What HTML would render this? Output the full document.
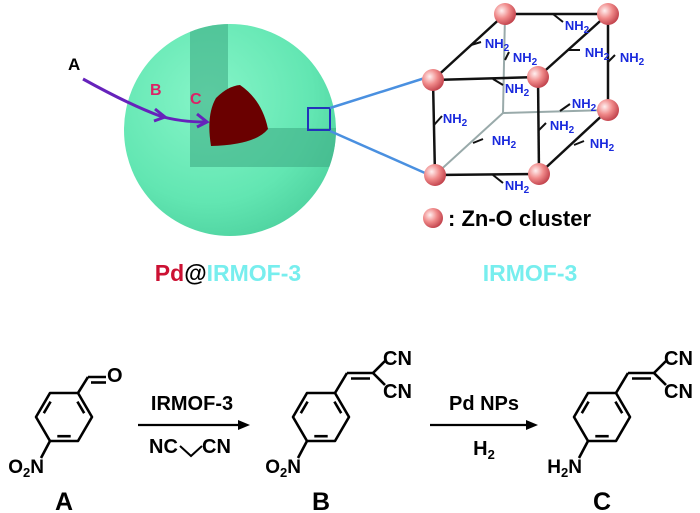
<!DOCTYPE html>
<html><head><meta charset="utf-8"><style>
html,body{margin:0;padding:0;background:#fff;width:700px;height:513px;overflow:hidden}
svg{display:block;font-family:"Liberation Sans",Arial,sans-serif}
</style></head><body>
<svg width="700" height="513" viewBox="0 0 700 513" xmlns="http://www.w3.org/2000/svg">
<defs>
<radialGradient id="sph" cx="0.4" cy="0.35" r="0.7">
<stop offset="0" stop-color="#86f5c8"/><stop offset="0.7" stop-color="#62e6b2"/><stop offset="1" stop-color="#4fd3a0"/>
</radialGradient>
<radialGradient id="ball" cx="0.35" cy="0.35" r="0.7">
<stop offset="0" stop-color="#fff0f0"/><stop offset="0.5" stop-color="#f08a8a"/><stop offset="1" stop-color="#c0404a"/>
</radialGradient>
<clipPath id="sc"><circle cx="230" cy="130" r="106"/></clipPath>
<g id="ring" stroke="#000" stroke-width="2.6" fill="none" stroke-linejoin="round">
<polygon points="28,0 14,-24 -14,-24 -28,0 -14,24 14,24"/>
<line x1="-20.2" y1="-3.8" x2="-13.4" y2="-15.4"/>
<line x1="13.4" y1="-15.4" x2="20.2" y2="-3.8"/>
<line x1="-6.7" y1="19.2" x2="6.7" y2="19.2"/>
</g>
<g id="dcn" stroke="#000" stroke-width="2.6" fill="none">
<line x1="14" y1="-24" x2="26" y2="-44"/>
<line x1="26" y1="-44" x2="52" y2="-44"/>
<line x1="30" y1="-38.5" x2="49" y2="-38.5"/>
<line x1="52" y1="-44" x2="64" y2="-56"/>
<line x1="52" y1="-44" x2="64" y2="-32"/>
<line x1="-14" y1="24" x2="-23" y2="41"/>
</g>
</defs>

<!-- sphere -->
<circle cx="230" cy="130" r="106" fill="url(#sph)"/>
<g clip-path="url(#sc)">
<path d="M190,20 L228,20 L228,128 L340,128 L340,167 L190,167 Z" fill="#3fae86" opacity="0.6"/>
</g>
<path d="M211,146 Q206,115 216,98 Q228,86 240,85 Q262,100 268,129 Q255,145 211,146 Z" fill="#6a0000"/>
<rect x="308" y="108" width="22" height="22" fill="none" stroke="#2233bb" stroke-width="2"/>
<line x1="330" y1="108" x2="425" y2="78" stroke="#4a90e0" stroke-width="2.5"/>
<line x1="330" y1="131" x2="425" y2="173" stroke="#4a90e0" stroke-width="2.5"/>
<!-- purple arrow -->
<path d="M83,79 Q130,105 160,116 Q180,122 206,122" fill="none" stroke="#6622bb" stroke-width="3"/>
<path d="M155,109 L165,117 L154,121" fill="none" stroke="#6622bb" stroke-width="3"/>
<path d="M197,114 L207,122 L197,127" fill="none" stroke="#6622bb" stroke-width="3"/>
<text x="68" y="70" font-size="17" font-weight="bold">A</text>
<text x="150" y="95" font-size="16" font-weight="bold" fill="#dd2266">B</text>
<text x="190" y="104" font-size="16" font-weight="bold" fill="#dd2266">C</text>
<text x="228" y="281" font-size="23" font-weight="bold" text-anchor="middle"><tspan fill="#cc1133">Pd</tspan><tspan fill="#000" font-weight="bold">@</tspan><tspan fill="#77eeee">IRMOF-3</tspan></text>
<text x="530" y="281" font-size="23" font-weight="bold" text-anchor="middle" fill="#77eeee">IRMOF-3</text>

<!-- cube -->
<g stroke="#9aa" stroke-width="2">
<line x1="505" y1="14" x2="503" y2="113"/><line x1="503" y1="113" x2="608" y2="110"/><line x1="503" y1="113" x2="435" y2="175"/>
</g>
<g stroke="#111" stroke-width="2.5">
<line x1="433" y1="80" x2="538" y2="77"/><line x1="433" y1="80" x2="435" y2="175"/><line x1="435" y1="175" x2="539" y2="174"/><line x1="538" y1="77" x2="539" y2="174"/>
<line x1="505" y1="14" x2="608" y2="14"/><line x1="608" y1="14" x2="608" y2="110"/>
<line x1="433" y1="80" x2="505" y2="14"/><line x1="538" y1="77" x2="608" y2="14"/><line x1="539" y1="174" x2="608" y2="110"/>
</g>
<g stroke="#111" stroke-width="2">
<line x1="553" y1="14" x2="563" y2="22"/><line x1="471" y1="45" x2="481" y2="42"/><line x1="505" y1="60" x2="509" y2="52"/>
<line x1="568" y1="50" x2="580" y2="50"/><line x1="608" y1="62" x2="615" y2="55"/><line x1="493" y1="79" x2="503" y2="85"/>
<line x1="560" y1="111" x2="570" y2="104"/><line x1="434" y1="125" x2="442" y2="116"/><line x1="539" y1="130" x2="546" y2="123"/>
<line x1="473" y1="143" x2="483" y2="139"/><line x1="574" y1="145" x2="584" y2="141"/><line x1="493" y1="175" x2="503" y2="183"/>
</g>
<g fill="#1a2add" font-size="13" font-weight="bold" text-anchor="middle">
<text x="577" y="30">NH<tspan font-size="10" dy="3">2</tspan></text>
<text x="497" y="48">NH<tspan font-size="10" dy="3">2</tspan></text>
<text x="525" y="62">NH<tspan font-size="10" dy="3">2</tspan></text>
<text x="597" y="57">NH<tspan font-size="10" dy="3">2</tspan></text>
<text x="632" y="62">NH<tspan font-size="10" dy="3">2</tspan></text>
<text x="517" y="93">NH<tspan font-size="10" dy="3">2</tspan></text>
<text x="584" y="108">NH<tspan font-size="10" dy="3">2</tspan></text>
<text x="455" y="123">NH<tspan font-size="10" dy="3">2</tspan></text>
<text x="562" y="130">NH<tspan font-size="10" dy="3">2</tspan></text>
<text x="504" y="145">NH<tspan font-size="10" dy="3">2</tspan></text>
<text x="602" y="148">NH<tspan font-size="10" dy="3">2</tspan></text>
<text x="517" y="190">NH<tspan font-size="10" dy="3">2</tspan></text>
</g>
<g fill="url(#ball)">
<circle cx="433" cy="80" r="11"/><circle cx="538" cy="77" r="11"/><circle cx="435" cy="175" r="11"/><circle cx="539" cy="174" r="11"/>
<circle cx="505" cy="14" r="11"/><circle cx="608" cy="14" r="11"/><circle cx="608" cy="110" r="11"/>
<circle cx="433" cy="218" r="10"/>
</g>
<text x="448" y="226" font-size="22" font-weight="bold">: Zn-O cluster</text>

<!-- scheme -->
<g transform="translate(64,417)">
<use href="#ring"/>
<g stroke="#000" stroke-width="2.6" fill="none">
<line x1="14" y1="-24" x2="24" y2="-40"/><line x1="24" y1="-40" x2="42" y2="-40"/><line x1="27" y1="-34.5" x2="42" y2="-34.5"/>
<line x1="-14" y1="24" x2="-23" y2="41"/>
</g>
<text x="43" y="-35" font-size="20" font-weight="bold">O</text>
<text x="-20" y="56" font-size="19" font-weight="bold" text-anchor="end">O<tspan font-size="13" dy="4">2</tspan><tspan dy="-4">N</tspan></text>
<text x="0" y="93" font-size="25" font-weight="bold" text-anchor="middle">A</text>
</g>
<g transform="translate(321,417)">
<use href="#ring"/><use href="#dcn"/>
<text x="62" y="-52" font-size="20" font-weight="bold">CN</text>
<text x="62" y="-19" font-size="20" font-weight="bold">CN</text>
<text x="-20" y="56" font-size="19" font-weight="bold" text-anchor="end">O<tspan font-size="13" dy="4">2</tspan><tspan dy="-4">N</tspan></text>
<text x="0" y="93" font-size="25" font-weight="bold" text-anchor="middle">B</text>
</g>
<g transform="translate(602,417)">
<use href="#ring"/><use href="#dcn"/>
<text x="62" y="-52" font-size="20" font-weight="bold">CN</text>
<text x="62" y="-19" font-size="20" font-weight="bold">CN</text>
<text x="-20" y="56" font-size="19" font-weight="bold" text-anchor="end">H<tspan font-size="13" dy="4">2</tspan><tspan dy="-4">N</tspan></text>
<text x="0" y="93" font-size="25" font-weight="bold" text-anchor="middle">C</text>
</g>
<!-- arrows -->
<line x1="138" y1="425" x2="242" y2="425" stroke="#000" stroke-width="2.2"/>
<polygon points="250,425 238,420 238,430" fill="#000"/>
<text x="192" y="410" font-size="20" font-weight="bold" text-anchor="middle">IRMOF-3</text>
<text x="149" y="453" font-size="20" font-weight="bold">NC</text>
<text x="202" y="453" font-size="20" font-weight="bold">CN</text>
<path d="M180,446 L191,456 L202,446" stroke="#000" stroke-width="2" fill="none"/>
<line x1="430" y1="425" x2="530" y2="425" stroke="#000" stroke-width="2.2"/>
<polygon points="538,425 526,420 526,430" fill="#000"/>
<text x="484" y="410" font-size="20" font-weight="bold" text-anchor="middle">Pd NPs</text>
<text x="484" y="455" font-size="20" font-weight="bold" text-anchor="middle">H<tspan font-size="13" dy="4">2</tspan></text>
</svg>
</body></html>
